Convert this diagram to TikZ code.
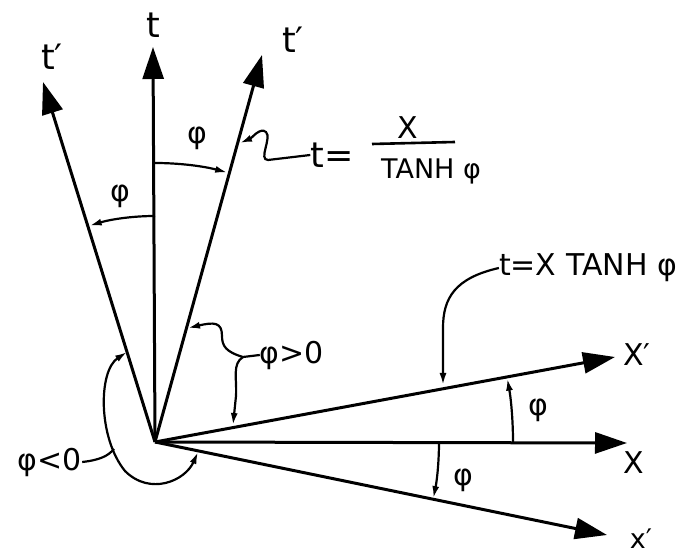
\documentclass[tikz,border=0pt]{standalone}
\usepackage{fontspec}
\setmainfont{DejaVu Sans}
\usetikzlibrary{arrows.meta,calc}
\begin{document}
\begin{tikzpicture}[x=1pt,y=1pt,
 axis/.style={line width=3pt,-{Triangle[length=32pt,width=21pt]}},
 angarr/.style={line width=2.2pt,-{Latex[length=12pt,width=7pt]}},
 lead/.style={line width=2.2pt,-{Latex[length=12pt,width=7pt]}},
 lbl/.style={font=\fontsize{30}{32}\selectfont, inner sep=0pt},
 big/.style={font=\fontsize{35}{37}\selectfont, inner sep=0pt},
 sml/.style={font=\fontsize{27}{29}\selectfont, inner sep=0pt}]
\useasboundingbox (0,0) rectangle (696,556);
% axes
\coordinate (O) at (155,114);
\coordinate (t) at (153,509);
\coordinate (tpr) at (262,501);
\coordinate (tpl) at (43,474);
\coordinate (x) at (627,113);
\coordinate (xpu) at (615,199);
\coordinate (xpd) at (607,21);
\draw[axis] (O) -- (t);
\draw[axis] (O) -- (tpr);
\draw[axis] (O) -- (tpl);
\draw[axis] (O) -- (x);
\draw[axis] (O) -- (xpu);
\draw[axis] (O) -- (xpd);
% axis labels
\node[big] (lt) at (153,531) {t};
\node[big] (ltpl) at (52,499) {t′};
\node[big] (ltpr) at (293,516) {t′};
\node[lbl] (lxpu) at (637,201) {X′};
\node[lbl] (lx) at (634,93) {X};
\node[sml] (lxpd) at (641,17) {x′};
% angle arcs
\draw[angarr] ($(O)+(90:279)$) arc[start angle=90,end angle=75,radius=279];
\draw[angarr] ($(O)+(90:226)$) arc[start angle=90,end angle=106.8,radius=226];
\draw[angarr] ($(O)+(0:358)$) arc[start angle=0,end angle=10.2,radius=358];
\draw[angarr] ($(O)+(0:284)$) arc[start angle=0,end angle=-11.4,radius=284];
\node[lbl] (p1) at (197,418) {φ};
\node[lbl] (p2) at (120,360) {φ};
\node[lbl] (p3) at (538,146) {φ};
\node[lbl] (p4) at (463,76) {φ};
% formula 1
\node[big] (f1) at (332,401) {t=};
\node[lbl] (f1n) at (408,428) {X};
\node[sml] (f1d) at (431,385) {TANH φ};
\draw[line width=2.6pt] (372,412) -- (455,414);
\draw[lead] (f1.west) -- (268,396) .. controls (258,396) and (272,418) .. (266,424)
  .. controls (260,429) and (252,418) .. (240,413);
% formula 2
\node[lbl] (f2) at (588,288) {t=X TANH φ};
\draw[lead] (f2.west) .. controls (455,278) and (443,258) .. (443,228) -- (443,171);
% phi > 0
\node[lbl] (pg) at (292,201) {φ>0};
\coordinate (br) at (243,199);
\draw[line width=2.2pt] (pg.west) -- (br);
\draw[lead] (br) .. controls (226,204) and (222,210) .. (222,220)
  .. controls (222,234) and (214,234) .. (188,228);
\draw[lead] (br) .. controls (232,192) and (237,178) .. (236,160) -- (233,131);
% phi < 0
\node[lbl] (pl) at (50,94) {φ<0};
\draw[line width=2.2pt,{Latex[length=12pt,width=7pt]}-{Latex[length=12pt,width=7pt]}]
  (127,204) .. controls (98,185) and (98,118) .. (125,85)
  .. controls (150,60) and (185,75) .. (198,104);
\coordinate (plj) at (114,107);
\draw[line width=2.2pt] (pl.east) .. controls (100,96) and (108,100) .. (plj);
\end{tikzpicture}
\end{document}
